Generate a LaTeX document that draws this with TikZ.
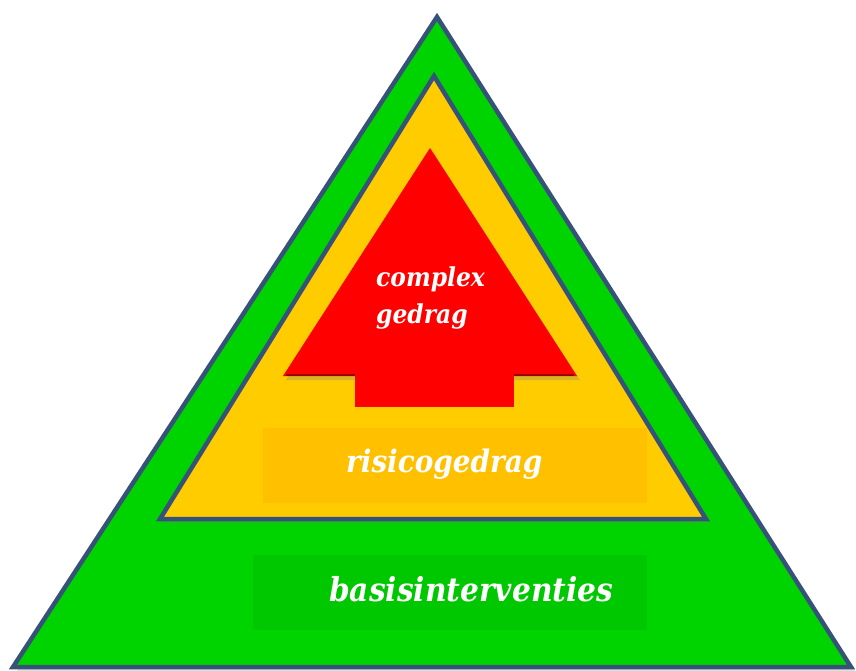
\documentclass[tikz,border=0pt]{standalone}
\usepackage{fontspec}
\newfontfamily\labelfont{DejaVu Serif Condensed}
\usetikzlibrary{shadows}
\definecolor{groen}{RGB}{0,212,0}
\definecolor{groenvak}{RGB}{0,200,0}
\definecolor{geel}{RGB}{255,204,0}
\definecolor{geelvak}{RGB}{255,192,0}
\definecolor{rood}{RGB}{255,0,0}
\definecolor{rand}{RGB}{55,82,120}
\tikzset{laag/.style={line width=4.5pt,line join=miter,draw=rand,drop shadow={shadow xshift=4pt,shadow yshift=-4pt,opacity=.25}}}
\begin{document}
\begin{tikzpicture}[x=1pt,y=-1pt]%
        \useasboundingbox (0,0) rectangle (856,671);%%
        \filldraw[laag,fill=groen] (437,17) -- (851,667) -- (13,667) -- cycle; %%
        \filldraw[laag,fill=geel] (434,76) -- (706,519) -- (160,519) -- cycle; %%
        \fill[rood,drop shadow={shadow xshift=3pt,shadow yshift=-4pt,opacity=.3}] (430,148) -- (577,376) -- (283,376) -- cycle; %%
        \draw[rood!60!black,line width=2pt] (286,375) -- (574,375); %%
        \fill[rood] (355,284) rectangle (514,407); %%
        \fill[geelvak] (263,428) rectangle (647,503); %%
        \fill[groenvak] (253,555) rectangle (647,630); %%
        \begin{scope}
        \tikzstyle{every node}=[text=white,inner sep=0pt] %%
        \node[anchor=base west,align=left,font=\labelfont\bfseries\itshape\fontsize{26}{37}\selectfont] (complex) at (376,323) {complex\\gedrag}; %%
        \node[anchor=base west,font=\labelfont\bfseries\itshape\fontsize{31}{36}\selectfont] (risico) at (346,472) {risicogedrag}; %%
        \node[anchor=base west,font=\labelfont\bfseries\itshape\fontsize{33}{38}\selectfont] (basis) at (329,601) {basisinterventies}; %%
        \end{scope}
\end{tikzpicture}
\end{document}
